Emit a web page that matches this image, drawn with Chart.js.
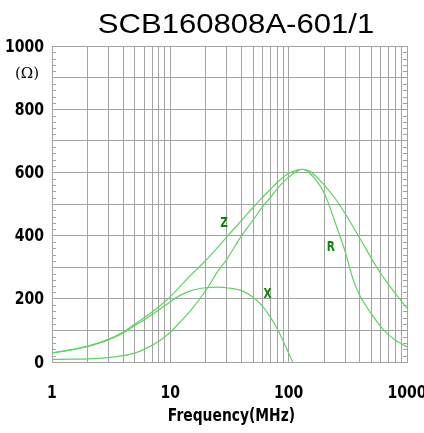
<!DOCTYPE html>
<html>
<head>
<meta charset="utf-8">
<script src="https://cdn.jsdelivr.net/npm/chart.js@4/dist/chart.umd.min.js"></script>
<style>
  html, body { margin: 0; padding: 0; background: #fff; }
  canvas { display: block; }
</style>
</head>
<body>
<canvas id="chart" width="424" height="433"></canvas>
<script>
// values (MHz / Ohm)
const freq   = [1, 1.5, 2, 3, 4, 5, 6, 8, 10, 12, 15, 20, 25, 30, 40, 50, 60, 70, 80, 100, 120, 130, 150, 200, 250, 300, 350, 400, 450, 500, 600, 700, 800, 900, 1000];
const zVals  = [29, 40, 50, 72, 95, 120, 140, 175, 207, 238, 276, 322, 362, 396, 448, 489, 521, 546, 568, 597, 608, 610, 604, 560, 515, 470, 428, 391, 358, 328, 280, 245, 216, 192, 170];
const rVals  = [8, 9, 10, 14, 20, 28, 40, 66, 94, 125, 165, 227, 285, 325, 400, 449, 491, 520, 548, 585, 605, 610, 598, 534, 436, 350, 262, 210, 178, 152, 112, 86, 69, 57, 48];
const xFreq  = [1, 1.5, 2, 3, 4, 5, 6, 8, 10, 12, 15, 20, 25, 30, 40, 50, 60, 70, 80, 90, 100, 108];
const xVals  = [28, 39, 49, 70, 92, 115, 133, 165, 191, 210, 226, 235, 237, 235, 226, 205, 177, 142, 105, 66, 28, 0];

const xTickLabels = [1, 10, 100, 1000];
const yTickLabels = [0, 200, 400, 600, 800, 1000];

// curve name labels, placed in data units
const curveLabels = [
  { text: 'Z', f: 28.4, v: 439 },
  { text: 'X', f: 66.4, v: 215 },
  { text: 'R', f: 227, v: 363 }
];

const boldFont = "'DejaVu Sans', sans-serif";
const lineColor = '#5fd35f';
const gridColor = '#a3a3a3';

function pts(xs, ys) {
  return xs.map((x, i) => ({ x: x, y: ys[i] }));
}

// text squeezed horizontally like the narrow face in the original
function text(ctx, str, x, y, font, sx, align) {
  ctx.save();
  ctx.translate(x, y);
  ctx.scale(sx, 1);
  ctx.font = font;
  ctx.textAlign = align || 'center';
  ctx.textBaseline = 'middle';
  ctx.fillText(str, 0, 0);
  ctx.restore();
}

const decorations = {
  id: 'decorations',
  afterDraw(chart) {
    const ctx = chart.ctx;
    const xs = chart.scales.x, ys = chart.scales.y;
    const area = chart.chartArea;
    ctx.save();

    // small inner ticks on left and right edges
    ctx.strokeStyle = gridColor;
    ctx.lineWidth = 1;
    for (let v = 20; v < 1000; v += 20) {
      if (v % 100 === 0) continue;
      const y = Math.round(ys.getPixelForValue(v)) + 0.5;
      ctx.beginPath();
      ctx.moveTo(area.left, y); ctx.lineTo(area.left + 4, y);
      ctx.moveTo(area.right - 4, y); ctx.lineTo(area.right, y);
      ctx.stroke();
    }

    ctx.fillStyle = '#000';
    // title
    text(ctx, 'SCB160808A-601/1', 236, 25, "28px 'Liberation Sans', Arial, sans-serif", 1.11);

    // tick labels
    const tickFont = "bold 18px " + boldFont;
    yTickLabels.forEach(v => {
      text(ctx, String(v), area.left - 8, ys.getPixelForValue(v) + 1, tickFont, 0.78, 'right');
    });
    xTickLabels.forEach(v => {
      text(ctx, String(v), xs.getPixelForValue(v), 393, tickFont, 0.78);
    });
    text(ctx, 'Frequency(MHz)', (area.left + area.right) / 2 + 2, 416, tickFont, 0.77);

    // unit under the top y label
    text(ctx, '(\u03A9)', 27, ys.getPixelForValue(1000) + 28, "15px 'DejaVu Serif', serif", 1);

    // curve names
    ctx.fillStyle = '#0a850a';
    curveLabels.forEach(l => {
      text(ctx, l.text, xs.getPixelForValue(l.f), ys.getPixelForValue(l.v), "bold 14px " + boldFont, 0.75);
    });
    ctx.restore();
  }
};

new Chart(document.getElementById('chart'), {
  type: 'line',
  data: {
    datasets: [
      { label: 'Z', data: pts(freq, zVals) },
      { label: 'R', data: pts(freq, rVals) },
      { label: 'X', data: pts(xFreq, xVals) }
    ].map(d => Object.assign(d, {
      borderColor: lineColor,
      borderWidth: 1.2,
      pointRadius: 0,
      fill: false,
      cubicInterpolationMode: 'monotone'
    }))
  },
  options: {
    responsive: false,
    animation: false,
    devicePixelRatio: 1,
    layout: { padding: { left: 0, right: 17, top: 46, bottom: 0 } },
    plugins: { legend: { display: false }, tooltip: { enabled: false } },
    scales: {
      x: {
        type: 'logarithmic',
        min: 1,
        max: 1000,
        afterFit(scale) {
          scale.height = 71;
          scale.paddingLeft = 0;
          scale.paddingRight = 0;
        },
        afterBuildTicks(scale) {
          const t = [];
          [1, 10, 100].forEach(d => { for (let k = 1; k < 10; k++) t.push({ value: d * k }); });
          t.push({ value: 1000 });
          scale.ticks = t;
        },
        grid: { color: gridColor, drawTicks: false },
        border: { color: gridColor },
        ticks: { display: false, autoSkip: false }
      },
      y: {
        min: 0,
        max: 1000,
        afterFit(scale) {
          scale.width = 52;
          scale.paddingTop = 0;
          scale.paddingBottom = 0;
        },
        grid: { color: gridColor, drawTicks: false },
        border: { color: gridColor },
        ticks: { display: false, stepSize: 100 }
      }
    }
  },
  plugins: [decorations]
});
</script>
</body>
</html>
